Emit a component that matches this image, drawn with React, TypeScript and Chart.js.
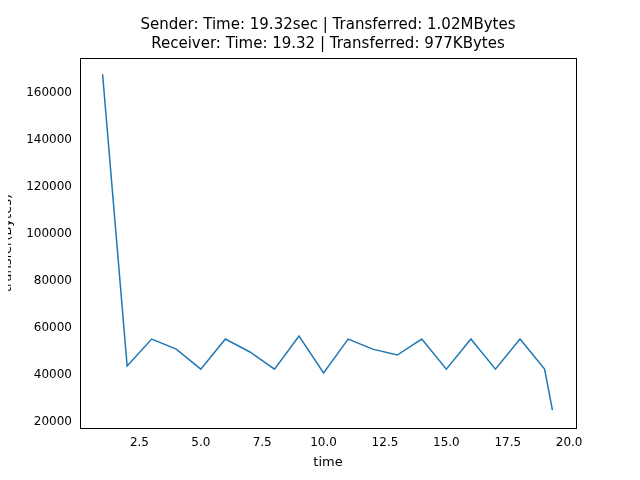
import React, { useEffect, useRef } from "react";
import { Chart, registerables } from "chart.js";

Chart.register(...registerables);

const times = [1, 2, 3, 4, 5, 6, 7, 8, 9, 10, 11, 12, 13, 14, 15, 16, 17, 18, 19, 19.32];
const bytes = [
  168000, 43800, 55300, 51000, 42500, 55300, 49800, 42500, 56600, 40900,
  55300, 51000, 48500, 55300, 42500, 55300, 42500, 55300, 42500, 25100,
];
const xTicks = [2.5, 5, 7.5, 10, 12.5, 15, 17.5, 20];
const yTicks = [20000, 40000, 60000, 80000, 100000, 120000, 140000, 160000];
const titleLines = [
  "Sender: Time: 19.32sec | Transferred: 1.02MBytes",
  "Receiver: Time: 19.32 | Transferred: 977KBytes",
];

const font = "'DejaVu Sans', sans-serif";

const boxPlugin = {
  id: "box",
  afterDraw(chart: any) {
    const { ctx, chartArea: a } = chart;
    ctx.save();
    ctx.strokeStyle = "#000";
    ctx.lineWidth = 1;
    ctx.strokeRect(a.left + 0.5, a.top + 0.5, a.right - a.left, a.bottom - a.top);
    // title centred over the plot area
    ctx.fillStyle = "#000";
    ctx.font = "15px " + font;
    ctx.textAlign = "center";
    ctx.textBaseline = "middle";
    const cx = (a.left + a.right) / 2;
    ctx.fillText(titleLines[0], cx, 25);
    ctx.fillText(titleLines[1], cx, 44);
    ctx.restore();
  },
};

const App: React.FC = () => {
  const ref = useRef<HTMLCanvasElement | null>(null);

  useEffect(() => {
    if (!ref.current) return;
    const chart = new Chart(ref.current, {
      type: "line",
      data: {
        datasets: [
          {
            data: times.map((t, i) => ({ x: t, y: bytes[i] })),
            borderColor: "#1f77b4",
            borderWidth: 1.5,
            pointRadius: 0,
            tension: 0,
          },
        ],
      },
      options: {
        animation: false,
        responsive: false,
        layout: { padding: { right: 64, left: 0, bottom: 0, top: 58 } },
        plugins: {
          legend: { display: false },
          tooltip: { enabled: false },
        },
        scales: {
          x: {
            type: "linear",
            min: 0.08,
            max: 20.28,
            afterBuildTicks: (s: any) => {
              s.ticks = xTicks.map((v) => ({ value: v }));
            },
            afterFit: (s: any) => {
              s.height = 52;
            },
            grid: { display: false, drawTicks: true, tickLength: 5, tickColor: "#000" },
            border: { color: "#000" },
            ticks: {
              color: "#000",
              font: { family: font, size: 12 },
              maxRotation: 0,
              callback: (v: any) => Number(v).toFixed(1),
            },
            title: { display: true, text: "time", color: "#000", font: { family: font, size: 13 }, padding: { top: 0, bottom: 10 } },
          },
          y: {
            min: 17450,
            max: 174900,
            afterBuildTicks: (s: any) => {
              s.ticks = yTicks.map((v) => ({ value: v }));
            },
            afterFit: (s: any) => {
              s.width = 80;
            },
            grid: { display: false, drawTicks: true, tickLength: 5, tickColor: "#000" },
            border: { color: "#000" },
            ticks: {
              color: "#000",
              font: { family: font, size: 12 },
              callback: (v: any) => String(v),
            },
            title: {
              display: true,
              text: "transfer(Bytes)",
              color: "#000",
              font: { family: font, size: 13 },
              padding: { top: 0, bottom: 0 },
            },
          },
        },
      },
      plugins: [boxPlugin],
    });
    return () => chart.destroy();
  }, []);

  return (
    <div style={{ width: 640, height: 480, margin: -8, background: "#fff" }}>
      <canvas ref={ref} width={640} height={480}></canvas>
    </div>
  );
};

export default App;
